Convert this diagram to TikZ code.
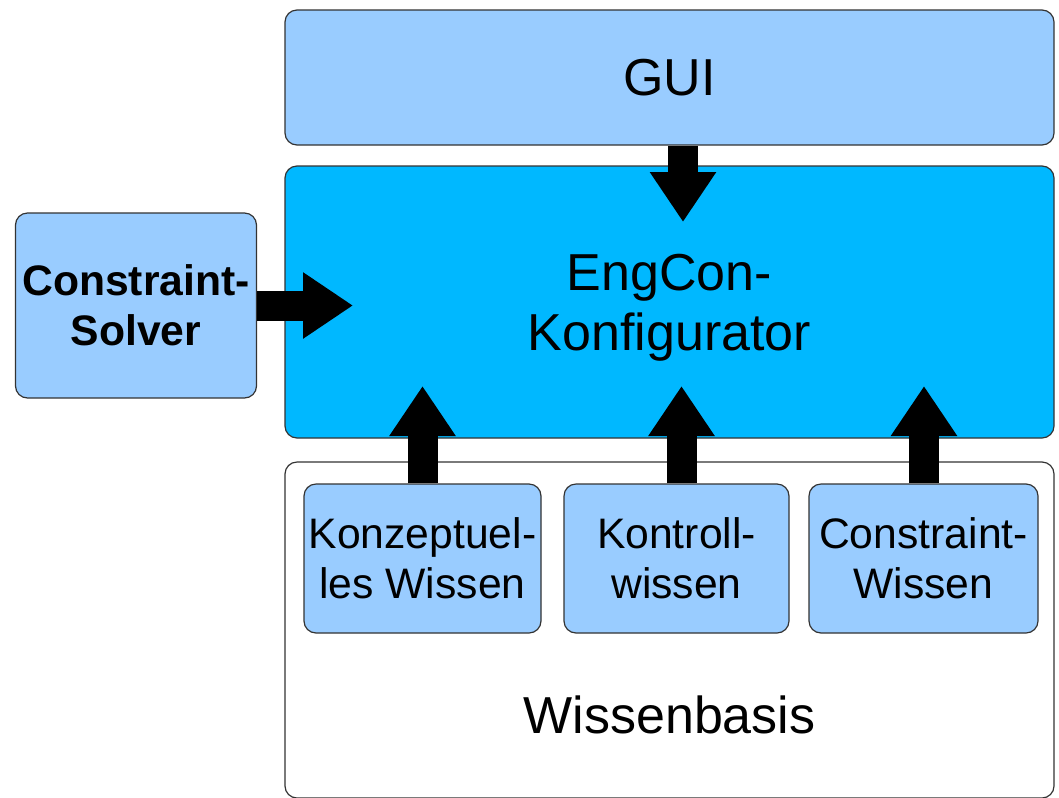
\documentclass[tikz,border=0pt]{standalone}
\usepackage{fontspec}
\setmainfont{Liberation Sans}
\usepackage{xcolor}
\usetikzlibrary{positioning}
\usetikzlibrary{shapes,arrows.meta}
\definecolor{lightblue}{HTML}{99CCFF}
\definecolor{skyblue}{HTML}{00B8FF}
\definecolor{rim}{HTML}{333333}
\tikzstyle{block} = [draw=rim, line width=0.9pt, rounded corners=9pt, align=center, inner sep=0pt]
\tikzstyle{line} = [draw, line width=22.5pt, -{Triangle[length=37.5pt, width=47.25pt]}]
\newcommand{\bigtext}{\fontsize{39}{45}\selectfont}
\newcommand{\smalltext}{\fontsize{32}{37.5}\selectfont}

\begin{document}
\begin{tikzpicture}[x=0.75pt, y=-0.75pt]
\useasboundingbox (0,0) rectangle (1059,797);
\node at (669.5, 77.5) [block, fill=lightblue, minimum width=576.75pt, minimum height=101.25pt, font=\bigtext] (GUI) {GUI};
\node at (669.5, 302) [block, fill=skyblue, minimum width=576.75pt, minimum height=204pt, text depth=-4pt, font=\bigtext] (EngCon) {EngCon-\\Konfigurator};
\node at (136, 305.5) [block, fill=lightblue, minimum width=180.75pt, minimum height=138.75pt, font=\smalltext\bfseries] (Solver) {Constraint-\\Solver};

\node at (669.5, 630) [block, fill=white, minimum width=576.75pt, minimum height=252pt] (Basis) {};
\node at (669.5, 733) [anchor=base, font=\bigtext] (BasisLabel) {Wissenbasis};
\node at (422.5, 558.5) [block, fill=lightblue, minimum width=177.75pt, minimum height=111.75pt, font=\smalltext] (Konz) {Konzeptuel-\\les Wissen};
\node at (676.5, 558.5) [block, fill=lightblue, minimum width=168.75pt, minimum height=111.75pt, font=\smalltext] (Kontroll) {Kontroll-\\wissen};
\node at (923.5, 558.5) [block, fill=lightblue, minimum width=171.75pt, minimum height=111.75pt, font=\smalltext] (CWissen) {Constraint-\\Wissen};

\coordinate (guiTip) at (683, 222);
\coordinate (solverTip) at (353, 305.5);
\coordinate (konzTip) at (422.5, 386);
\coordinate (kontrTip) at (681.5, 386);
\coordinate (cwTip) at (924, 386);
\path [line] (GUI.south -| guiTip) -- (guiTip);
\path [line] (Solver.east |- solverTip) -- (solverTip);
\path [line] (Konz.north) -- (konzTip);
\path [line] (Kontroll.north -| kontrTip) -- (kontrTip);
\path [line] (CWissen.north -| cwTip) -- (cwTip);
\end{tikzpicture}
\end{document}
